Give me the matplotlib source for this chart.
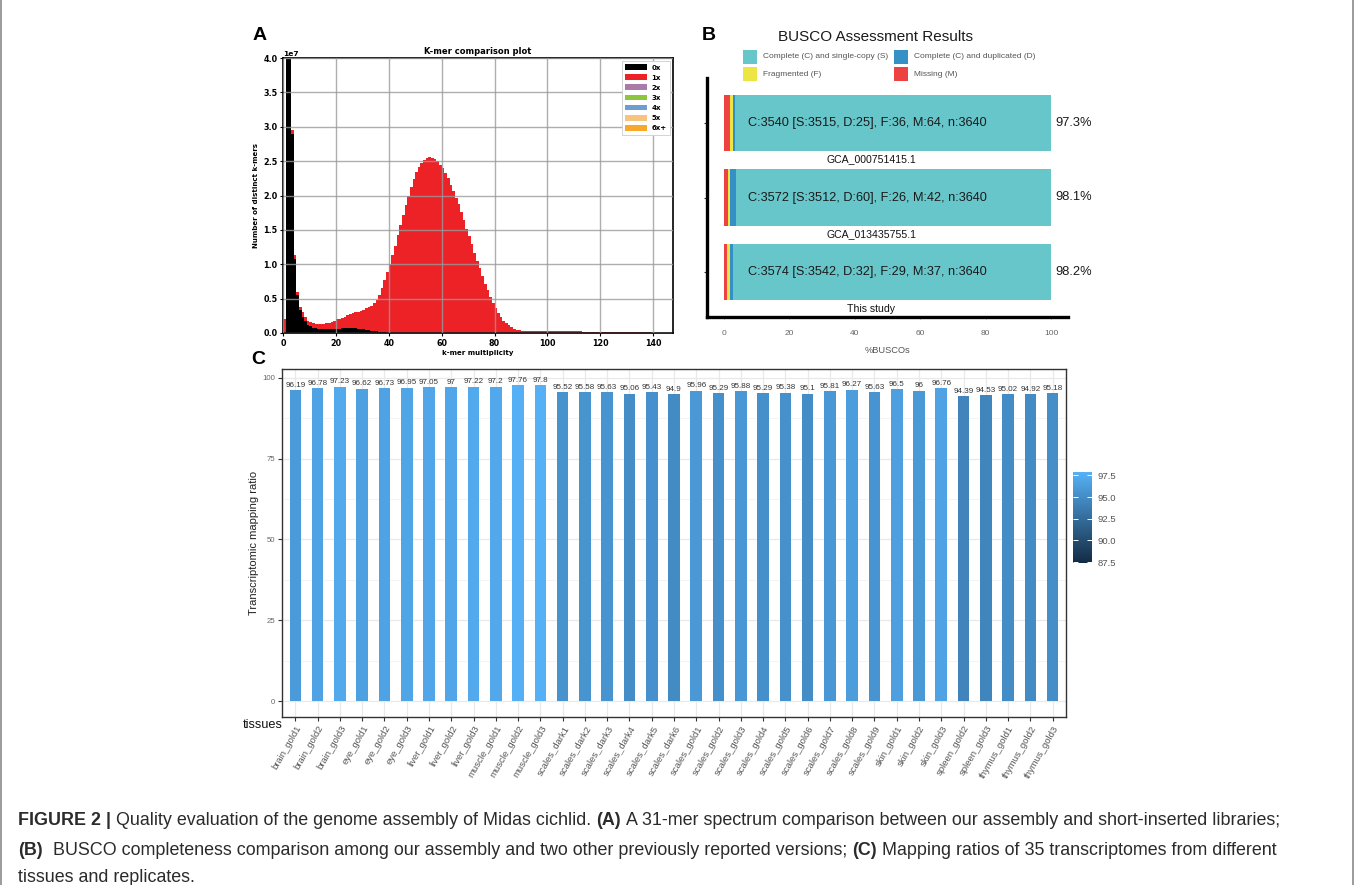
import matplotlib
matplotlib.use('Agg')
import matplotlib.pyplot as plt
from matplotlib.colors import LinearSegmentedColormap, Normalize
from matplotlib.cm import ScalarMappable
from matplotlib.patches import Patch, Rectangle
from matplotlib.lines import Line2D

plt.rcParams['font.family'] = ['Liberation Sans', 'DejaVu Sans']

# ---------------- Panel A data (k-mer spectrum, units of 1e7) ----------------
kmer_mult = list(range(0, 146))
kmer_0x = [
    0.0, 9.0, 6.2, 2.90, 1.08, 0.55, 0.33, 0.24, 0.17, 0.12,
    0.095, 0.08, 0.07, 0.065, 0.06, 0.055, 0.055, 0.055, 0.055, 0.057,
    0.06, 0.065, 0.07, 0.073, 0.075, 0.075, 0.072, 0.068, 0.063, 0.058,
    0.052, 0.046, 0.04, 0.034, 0.028, 0.023, 0.018, 0.013, 0.01, 0.007,
    0.005, 0.003, 0.002, 0.0, 0.0, 0.0, 0.0, 0.0, 0.0, 0.0,
    0.0, 0.0, 0.0, 0.0, 0.0, 0.0, 0.0, 0.0, 0.0, 0.0,
    0.0, 0.0, 0.0, 0.0, 0.0, 0.0, 0.0, 0.0, 0.0, 0.0,
    0.0, 0.0, 0.0, 0.0, 0.0, 0.0, 0.0, 0.0, 0.0, 0.0,
    0.0, 0.0, 0.0, 0.0, 0.0, 0.0, 0.0, 0.0, 0.0, 0.0,
    0.0, 0.0, 0.0, 0.0, 0.0, 0.0, 0.0, 0.0, 0.0, 0.0,
    0.0, 0.0, 0.0, 0.0, 0.0, 0.0, 0.0, 0.0, 0.0, 0.0,
    0.0, 0.0, 0.0, 0.0, 0.0, 0.0, 0.0, 0.0, 0.0, 0.0,
    0.0, 0.0, 0.0, 0.0, 0.0, 0.0, 0.0, 0.0, 0.0, 0.0,
    0.0, 0.0, 0.0, 0.0, 0.0, 0.0, 0.0, 0.0, 0.0, 0.0,
    0.0, 0.0, 0.0, 0.0, 0.0, 0.0,
]
kmer_1x = [
    0.20, 0.05, 0.05, 0.05, 0.05, 0.04, 0.05, 0.06, 0.06, 0.06,
    0.06, 0.06, 0.06, 0.06, 0.065, 0.075, 0.085, 0.095, 0.11, 0.123,
    0.14, 0.145, 0.155, 0.167, 0.18, 0.195, 0.213, 0.232, 0.247, 0.267,
    0.288, 0.314, 0.34, 0.366, 0.402, 0.457, 0.542, 0.647, 0.76, 0.873,
    0.995, 1.127, 1.268, 1.42, 1.57, 1.72, 1.86, 2.00, 2.13, 2.24,
    2.34, 2.42, 2.48, 2.52, 2.55, 2.56, 2.55, 2.53, 2.50, 2.45,
    2.40, 2.33, 2.25, 2.16, 2.07, 1.97, 1.87, 1.76, 1.64, 1.52,
    1.41, 1.29, 1.17, 1.05, 0.94, 0.83, 0.72, 0.62, 0.52, 0.44,
    0.36, 0.29, 0.23, 0.18, 0.14, 0.11, 0.085, 0.065, 0.05, 0.042,
    0.036, 0.032, 0.030, 0.029, 0.028, 0.028, 0.027, 0.027, 0.026, 0.026,
    0.025, 0.025, 0.025, 0.024, 0.024, 0.024, 0.023, 0.023, 0.023, 0.022,
    0.022, 0.022, 0.022, 0.021, 0.021, 0.021, 0.021, 0.020, 0.020, 0.020,
    0.019, 0.019, 0.018, 0.018, 0.017, 0.017, 0.016, 0.015, 0.015, 0.014,
    0.013, 0.012, 0.011, 0.011, 0.010, 0.009, 0.009, 0.008, 0.008, 0.007,
    0.007, 0.006, 0.005, 0.005, 0.004, 0.004,
]
kmer_legend = ['0x', '1x', '2x', '3x', '4x', '5x', '6x+']
kmer_colors = ['#000000', '#ec2227', '#a87bab', '#8cc63f', '#6d9dd5', '#f8c27f', '#f7a82a']

# ---------------- Panel B data (BUSCO) ----------------
busco_names = ['GCA_000751415.1', 'GCA_013435755.1', 'This study']
busco_S = [3515, 3512, 3542]
busco_D = [25, 60, 32]
busco_F = [36, 26, 29]
busco_M = [64, 42, 37]
busco_n = [3640, 3640, 3640]
busco_cats = ['Complete (C) and single-copy (S)', 'Complete (C) and duplicated (D)',
              'Fragmented (F)', 'Missing (M)']
busco_colors = {'S': '#66c6ca', 'D': '#3590c6', 'F': '#ece543', 'M': '#ee4242'}

# ---------------- Panel C data (mapping ratios) ----------------
tissues = ['brain_gold1', 'brain_gold2', 'brain_gold3', 'eye_gold1', 'eye_gold2', 'eye_gold3',
           'liver_gold1', 'liver_gold2', 'liver_gold3', 'muscle_gold1', 'muscle_gold2',
           'muscle_gold3', 'scales_dark1', 'scales_dark2', 'scales_dark3', 'scales_dark4',
           'scales_dark5', 'scales_dark6', 'scales_gold1', 'scales_gold2', 'scales_gold3',
           'scales_gold4', 'scales_gold5', 'scales_gold6', 'scales_gold7', 'scales_gold8',
           'scales_gold9', 'skin_gold1', 'skin_gold2', 'skin_gold3', 'spleen_gold2',
           'spleen_gold3', 'thymus_gold1', 'thymus_gold2', 'thymus_gold3']
mapping_ratio = [96.19, 96.78, 97.23, 96.62, 96.73, 96.95, 97.05, 97, 97.22, 97.2, 97.76,
                 97.8, 95.52, 95.58, 95.63, 95.06, 95.43, 94.9, 95.96, 95.29, 95.88, 95.29,
                 95.38, 95.1, 95.81, 96.27, 95.63, 96.5, 96, 96.76, 94.39, 94.53, 95.02,
                 94.92, 95.18]
cbar_ticks = [87.5, 90.0, 92.5, 95.0, 97.5]

# ---------------- Figure ----------------
W, H = 1354, 885
fig = plt.figure(figsize=(W / 100, H / 100), dpi=100)


def px_axes(l, t, r, b):
    return fig.add_axes([l / W, 1 - b / H, (r - l) / W, (b - t) / H])


def ftext(x, y, s, **kw):
    return fig.text(x / W, 1 - y / H, s, **kw)


# ================= Panel A =================
axA = px_axes(283, 58, 673, 333)
axA.bar(kmer_mult, kmer_0x, width=1.0, align='edge', color=kmer_colors[0], lw=0, zorder=1)
axA.bar(kmer_mult, kmer_1x, bottom=kmer_0x, width=1.0, align='edge', color=kmer_colors[1],
        lw=0, zorder=1)
axA.set_xlim(0, 147.5)
axA.set_ylim(0, 4.0)
axA.set_xticks([0, 20, 40, 60, 80, 100, 120, 140])
axA.set_yticks([0, 0.5, 1.0, 1.5, 2.0, 2.5, 3.0, 3.5, 4.0])
axA.set_yticklabels(['0.0', '0.5', '1.0', '1.5', '2.0', '2.5', '3.0', '3.5', '4.0'])
axA.grid(True, color='#9a9a9a', lw=1.0, alpha=0.8, zorder=3)
axA.set_axisbelow(False)
dv = dict(family='DejaVu Sans', fontweight='bold')
for lab in axA.get_xticklabels() + axA.get_yticklabels():
    lab.set_fontfamily('DejaVu Sans')
    lab.set_fontweight('bold')
    lab.set_fontsize(5.8)
axA.tick_params(length=2.5, width=0.8, pad=1.5)
for sp in axA.spines.values():
    sp.set_linewidth(1.2)
axA.set_title('K-mer comparison plot', fontsize=6, pad=3, **dv)
axA.set_xlabel('k-mer multiplicity', fontsize=5, labelpad=2, **dv)
axA.set_ylabel('Number of distinct k-mers', fontsize=5, labelpad=3, **dv)
axA.text(0.0, 1.005, '1e7', transform=axA.transAxes, fontsize=5.4, ha='left', va='bottom', **dv)
handles = [Patch(facecolor=c, edgecolor='none') for c in kmer_colors]
leg = axA.legend(handles, kmer_legend, loc='upper right', prop=dict(family='DejaVu Sans',
                 weight='bold', size=5), handlelength=3.2, handleheight=0.9,
                 labelspacing=0.55, borderpad=0.5, handletextpad=0.6, framealpha=1,
                 fancybox=False, edgecolor='#cccccc', borderaxespad=0.4)
leg.get_frame().set_linewidth(0.6)

# ================= Panel B =================
axB = px_axes(707, 78, 1068, 317)
ypos = [3, 2, 1]
for i, y in enumerate(ypos):
    n = busco_n[i]
    pm = busco_M[i] / n * 100
    pf = busco_F[i] / n * 100
    pd_ = busco_D[i] / n * 100
    ps = busco_S[i] / n * 100
    left = 0
    for val, key in [(pm, 'M'), (pf, 'F'), (pd_, 'D'), (ps, 'S')]:
        axB.barh(y, val, left=left, height=0.75, color=busco_colors[key], lw=0)
        left += val
    C = busco_S[i] + busco_D[i]
    axB.text(7.3, y, f'C:{C} [S:{busco_S[i]}, D:{busco_D[i]}], F:{busco_F[i]}, '
             f'M:{busco_M[i]}, n:{n}', ha='left', va='center', fontsize=9.2, color='#1a1a1a')
    axB.text(101.2, y, f'{C / n * 100:.1f}%', ha='left', va='center', fontsize=9.3,
             color='#1a1a1a', clip_on=False)
    axB.text(45, y - 0.49, busco_names[i], ha='center', va='center', fontsize=7.6,
             color='#111111')
axB.set_xlim(-5.2, 105.2)
axB.set_ylim(0.4, 3.6)
axB.set_yticks(ypos)
axB.set_yticklabels([])
axB.set_xticks([0, 20, 40, 60, 80, 100])
axB.tick_params(axis='x', length=1.5, width=0.6, colors='#888888', labelsize=6,
                labelcolor='#666666', pad=8)
axB.tick_params(axis='y', length=2.5, width=0.8, color='#333333')
for s in ['top', 'right']:
    axB.spines[s].set_visible(False)
axB.spines['left'].set_linewidth(2.4)
axB.spines['bottom'].set_linewidth(2.4)
axB.set_xlabel('%BUSCOs', fontsize=6.7, color='#555555', labelpad=6)
ftext(875, 37, 'BUSCO Assessment Results', fontsize=11, ha='center', va='center',
      color='#1a1a1a')
leg_items = [(743, 57, 'S', busco_cats[0]), (894, 57, 'D', busco_cats[1]),
             (743, 74, 'F', busco_cats[2]), (894, 74, 'M', busco_cats[3])]
for (x0, yc, key, lab) in leg_items:
    fig.patches.append(Rectangle((x0 / W, 1 - (yc + 7) / H), 14 / W, 14 / H,
                                 transform=fig.transFigure, facecolor=busco_colors[key],
                                 edgecolor='none'))
    ftext(x0 + 20, yc, lab, fontsize=6, ha='left', va='center', color='#555555')

# ================= Panel C =================
axC = px_axes(282, 369, 1066, 717)
cmap = LinearSegmentedColormap.from_list('gg', ['#132B43', '#56B1F7'])
norm = Normalize(vmin=87.4, vmax=97.9)
xs = list(range(len(tissues)))
axC.bar(xs, mapping_ratio, width=0.52, color=[cmap(norm(v)) for v in mapping_ratio],
        lw=0, zorder=2)
for x, v in zip(xs, mapping_ratio):
    axC.text(x, v + 0.4, f'{v:g}', ha='center', va='bottom', fontsize=5.8, color='#333333',
             zorder=3)
lo, hi = 0, max(mapping_ratio)
pad = (hi - lo) * 0.05
axC.set_ylim(lo - pad, hi + pad)
axC.set_xlim(-0.6, len(tissues) - 0.4)
axC.set_yticks([0, 25, 50, 75, 100])
axC.set_yticks([12.5, 37.5, 62.5, 87.5], minor=True)
axC.set_xticks(xs)
axC.set_xticklabels(tissues, rotation=60, ha='right', rotation_mode='anchor', fontsize=6.8,
                    color='#555555')
axC.tick_params(axis='x', length=3, width=0.8, color='#333333', pad=2)
axC.tick_params(axis='y', which='major', length=3, width=0.8, color='#333333', labelsize=5.6,
                labelcolor='#666666', pad=2)
axC.tick_params(axis='y', which='minor', length=0)
axC.grid(True, which='major', color='#e9e9e9', lw=0.9, zorder=0)
axC.grid(True, which='minor', axis='y', color='#f3f3f3', lw=0.6, zorder=0)
axC.set_axisbelow(True)
for sp in axC.spines.values():
    sp.set_linewidth(1.0)
    sp.set_color('#333333')
axC.set_ylabel('Transcriptomic mapping ratio', fontsize=8, color='#222222', labelpad=2)
ftext(263, 725, 'tissues', fontsize=9.2, ha='center', va='center', color='#111111')

cax = px_axes(1073, 472, 1092, 563)
sm = ScalarMappable(norm=norm, cmap=cmap)
cb = fig.colorbar(sm, cax=cax, ticks=cbar_ticks)
cb.outline.set_visible(False)
cb.ax.set_yticklabels([f'{t:.1f}' for t in cbar_ticks])
cax.yaxis.set_ticks_position('both')
cax.tick_params(direction='in', color='white', length=3.5, width=0.7, labelsize=6.8,
                labelcolor='#555555', pad=4, labelright=True, labelleft=False)

# ================= Panel letters =================
ftext(260, 35, 'A', fontsize=14, fontweight='bold', ha='center', va='center')
ftext(709, 36, 'B', fontsize=14, fontweight='bold', ha='center', va='center')
ftext(258, 360, 'C', fontsize=14, fontweight='bold', ha='center', va='center')

# ================= Caption =================
renderer = fig.canvas.get_renderer()
cap_size = 12.9
cap_color = '#2b2b2b'


def space_w(bold):
    w = fig.text(0, 0, 'a a', fontsize=cap_size, fontweight='bold' if bold else 'normal')
    w2 = fig.text(0, 0, 'aa', fontsize=cap_size, fontweight='bold' if bold else 'normal')
    d = w.get_window_extent(renderer).width - w2.get_window_extent(renderer).width
    w.remove()
    w2.remove()
    return d


SP = space_w(False)


def rich_line(x, y, segs):
    for txt, bold, nsp in segs:
        t = ftext(x, y, txt, fontsize=cap_size, fontweight='bold' if bold else 'normal',
                  ha='left', va='baseline', color=cap_color)
        x += t.get_window_extent(renderer).width + nsp * SP


rich_line(18, 825, [('FIGURE 2 |', True, 1),
                    ('Quality evaluation of the genome assembly of Midas cichlid.', False, 1),
                    ('(A)', True, 1),
                    ('A 31-mer spectrum comparison between our assembly and short-inserted '
                     'libraries;', False, 0)])
rich_line(18, 855, [('(B)', True, 2),
                    ('BUSCO completeness comparison among our assembly and two other '
                     'previously reported versions;', False, 1),
                    ('(C)', True, 1),
                    ('Mapping ratios of 35 transcriptomes from different', False, 0)])
rich_line(18, 882, [('tissues and replicates.', False, 0)])

# figure frame
fig.add_artist(Line2D([0.5 / W, 0.5 / W], [0, 1], transform=fig.transFigure, color='#8a8a8a',
                      lw=1.2))
fig.add_artist(Line2D([1 - 1.5 / W, 1 - 1.5 / W], [0, 1], transform=fig.transFigure,
                      color='#8a8a8a', lw=1.2))

fig.savefig('out.png', dpi=100)
